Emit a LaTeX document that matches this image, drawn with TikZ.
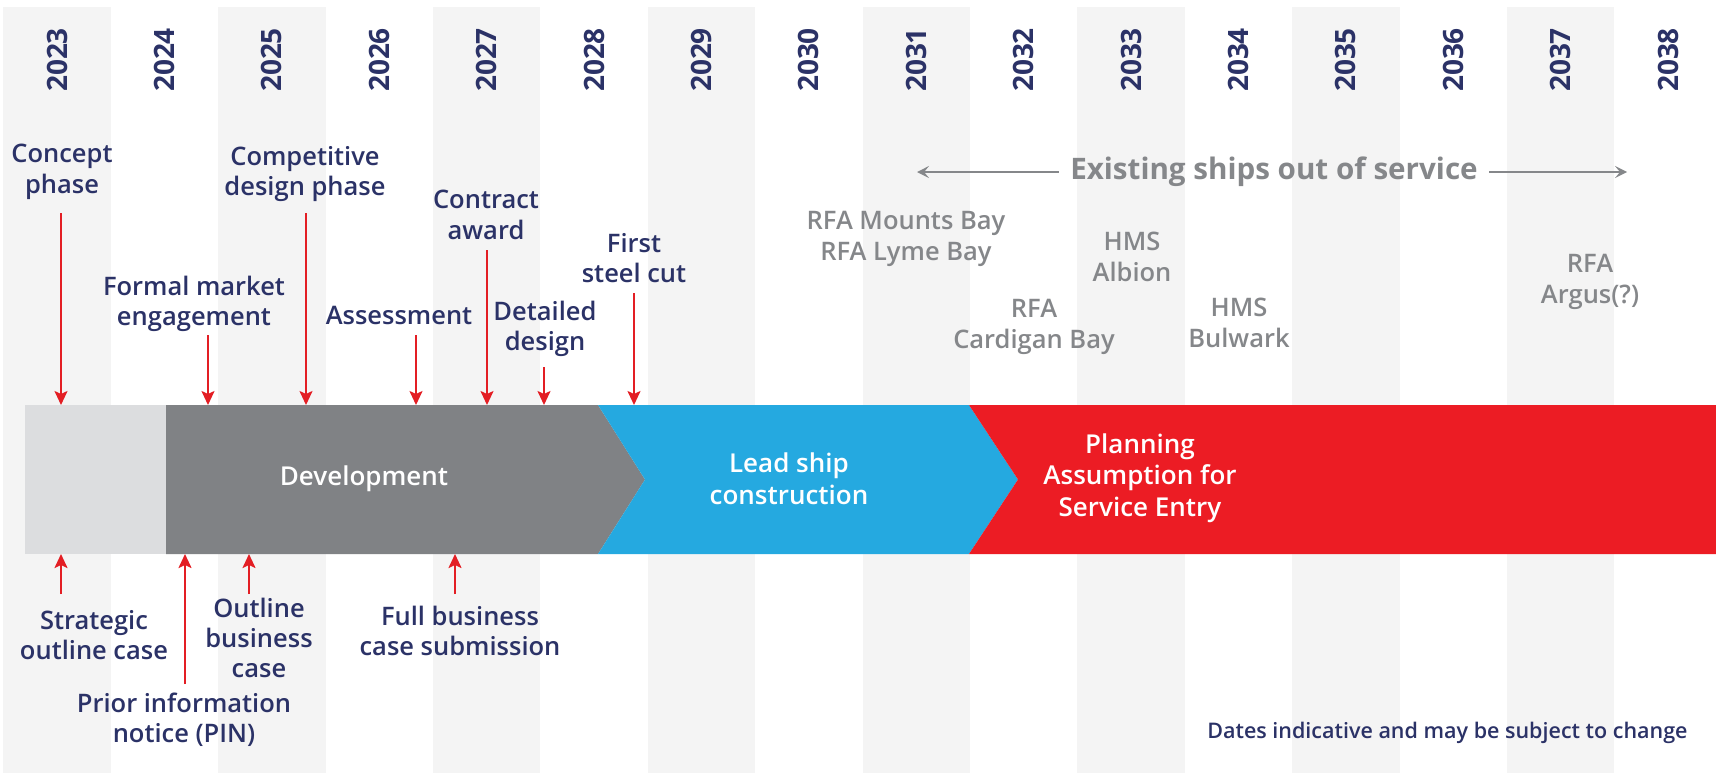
\documentclass[tikz,border=0pt]{standalone}
\usepackage{fontspec}
\setmainfont{Open Sans}
\newfontfamily\semifont{Open Sans Semibold}
\usetikzlibrary{arrows.meta}

\definecolor{navy}{HTML}{2B3267}
\definecolor{stripegray}{HTML}{F4F4F4}
\definecolor{conceptgray}{HTML}{DCDDDF}
\definecolor{devgray}{HTML}{808285}
\definecolor{leadblue}{HTML}{25A9E0}
\definecolor{servicered}{HTML}{EC1C24}
\definecolor{markred}{HTML}{E31E24}
\definecolor{shipgray}{HTML}{85878A}

\begin{document}
\begin{tikzpicture}
[x=0.5pt, y=-0.5pt,
 every node/.style={inner sep=0pt, align=center},
 yearlbl/.style={font=\bfseries\fontsize{14}{14}\selectfont, text=navy, rotate=90},
 milestone/.style={font=\semifont\fontsize{12.75}{15.2}\selectfont, text=navy},
 phase/.style={font=\semifont\fontsize{13}{15.8}\selectfont, text=white},
 ship/.style={font=\semifont\fontsize{12.75}{15.2}\selectfont, text=shipgray},
 existing/.style={font=\bfseries\fontsize{14.8}{15}\selectfont, text=shipgray, inner xsep=5.5pt},
 note/.style={font=\semifont\fontsize{10.75}{12}\selectfont, text=navy},
 redarrow/.style={draw=markred, line width=1pt, -{Stealth[length=7pt,width=6.5pt,inset=1.5pt]}},
 grayarrow/.style={draw=shipgray, line width=1pt, -{Stealth[length=6pt,width=6pt,inset=2.5pt]}}]
\useasboundingbox [fill=white] (0,0) rectangle (1716,773);

% year columns
\foreach \i in {0,2,...,14}
  \fill[stripegray] ({3.3+107.4*\i},7) rectangle ++(107.4,766);
\foreach \yr [count=\i from 0] in {2023,...,2038}
  \node[yearlbl] (y\yr) at ({3.3+107.4*(\i+0.5)},60) {\yr};

% phase bar
\coordinate (bartop) at (0,405);
\coordinate (barbot) at (0,554);
\fill[conceptgray] (25,405) rectangle (166,554);
\fill[devgray] (166,405) -- (598,405) -- (645,479.5) -- (598,554) -- (166,554) -- cycle;
\fill[leadblue] (598,405) -- (969,405) -- (1018,479.5) -- (969,554) -- (598,554) -- (645,479.5) -- cycle;
\fill[servicered] (969,405) -- (1716,405) -- (1716,554) -- (969,554) -- (1018,479.5) -- cycle;
\node[phase] (dev) at (364,479) {Development};
\node[phase] (lead) at (789,479) {Lead ship\\construction};
\node[phase] (entry) at (1140,478) {Planning\\Assumption for\\Service Entry};

% milestones above the bar
\node[milestone] (concept) at (62,172) {Concept\\phase};
\node[milestone] (market) at (194,304) {Formal market\\engagement};
\node[milestone] (compet) at (305,174) {Competitive\\design phase};
\node[milestone] (assess) at (399,315) {Assessment};
\node[milestone] (contract) at (486,215) {Contract\\award};
\node[milestone] (detail) at (545,329) {Detailed\\design};
\node[milestone] (steel) at (634,258) {First\\steel cut};
\coordinate (concept-s) at (61,213);
\coordinate (market-s) at (208,335);
\coordinate (compet-s) at (306,213);
\coordinate (assess-s) at (416,335);
\coordinate (contract-s) at (487,250);
\coordinate (detail-s) at (544,367);
\coordinate (steel-s) at (634,293);
\foreach \m in {concept,market,compet,assess,contract,detail,steel}
  \draw[redarrow] (\m-s) -- (\m-s |- bartop);

% milestones below the bar
\node[milestone] (soc) at (94,635) {Strategic\\outline case};
\node[milestone] (pin) at (184,720) {Prior information\\notice (PIN)};
\node[milestone] (obc) at (259,638) {Outline\\business\\case};
\node[milestone] (fbc) at (460,631) {Full business\\case submission};
\coordinate (soc-s) at (61,594);
\coordinate (pin-s) at (185,684);
\coordinate (obc-s) at (249,594);
\coordinate (fbc-s) at (455,594);
\foreach \m in {soc,pin,obc,fbc}
  \draw[redarrow] (\m-s) -- (\m-s |- barbot);

% existing ships
\node[existing] (existing) at (1274,172) {Existing ships out of service};
\coordinate (out-l) at (917,172);
\coordinate (out-r) at (1627,172);
\draw[grayarrow] (existing.west) -- (out-l);
\draw[grayarrow] (existing.east) -- (out-r);
\node[ship] (bays) at (906,239) {RFA Mounts Bay\\RFA Lyme Bay};
\node[ship] (albion) at (1132,257) {HMS\\Albion};
\node[ship] (cardigan) at (1034,327) {RFA\\Cardigan Bay};
\node[ship] (bulwark) at (1239,323) {HMS\\Bulwark};
\node[ship] (argus) at (1590,282) {RFA\\Argus(?)};

\node[note, anchor=east] (dates) at (1688,733) {Dates indicative and may be subject to change};
\end{tikzpicture}
\end{document}
